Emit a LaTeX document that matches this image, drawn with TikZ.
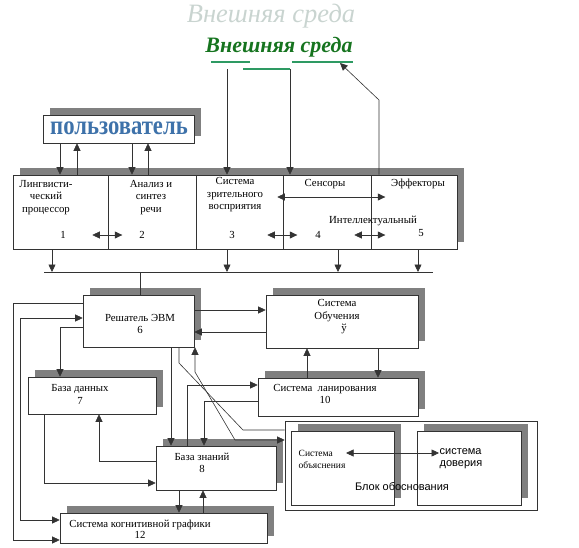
\documentclass[tikz,border=0pt]{standalone}
\usepackage{fontspec}
\setmainfont{Liberation Serif}
\setsansfont{Liberation Sans}
\usepackage{tikz}
\usetikzlibrary{arrows.meta, shadows, calc}
\definecolor{EnvFaint}{HTML}{C9D4D0}
\definecolor{EnvGreen}{HTML}{16741F}
\definecolor{EnvLine}{HTML}{2E9A63}
\definecolor{UserBlue}{HTML}{3E72AA}
\definecolor{ShadowGray}{HTML}{808080}
\definecolor{LineGray}{HTML}{333333}
\tikzset{
    % Boxes with a grey shadow at the upper right
    blockbox/.style={
        rectangle,
        draw=LineGray,
        fill=white,
        line width=0.6pt,
        inner sep=0pt,
        drop shadow={shadow xshift=7pt, shadow yshift=7pt, fill=ShadowGray, opacity=1}
    },
    cellbox/.style={
        rectangle,
        draw=LineGray,
        line width=0.6pt,
        minimum height=74pt,
        inner sep=0pt
    },
    plainbox/.style={
        rectangle,
        draw=LineGray,
        line width=0.6pt,
        inner sep=0pt
    },
    % Texts
    boxtext/.style={
        inner sep=0.5pt,
        align=center,
        font=\fontsize{10.8}{12.5}\selectfont
    },
    sanstext/.style={
        inner sep=0.5pt,
        align=left,
        font=\sffamily\fontsize{11}{12}\selectfont
    },
    % Arrow styles
    myarrow/.style={
        -{Triangle[length=7.5pt,width=7pt]},
        line width=0.6pt,
        LineGray
    },
    botharrow/.style={
        {Triangle[length=7.5pt,width=7pt]}-{Triangle[length=7.5pt,width=7pt]},
        line width=0.6pt,
        LineGray
    },
    plainline/.style={
        line width=0.6pt,
        LineGray
    },
    envline/.style={
        line width=1.6pt,
        EnvLine
    }
}
\begin{document}
\begin{tikzpicture}[x=1pt, y=-1pt]
    \useasboundingbox (0,0) rectangle (579,547);

    % Titles
    \node[text=EnvFaint, font=\itshape\fontsize{26.5}{28}\selectfont] (envFaint) at (271,16) {Внешняя среда};
    \node[text=EnvGreen, font=\bfseries\itshape\fontsize{22}{24}\selectfont] (envMain) at (279,47) {Внешняя среда};
    \draw[envline] (211,62) -- (250,62);
    \draw[envline] (292,62) -- (353,62);
    \draw[envline] (243,69) -- (290,69);
    \coordinate (envA) at (227,69);
    \coordinate (envB) at (290,69);
    \coordinate (envC) at (340,63);

    % User
    \node[blockbox, minimum width=151pt, minimum height=28pt] (user) at (118.5,129) {};
    \node[text=UserBlue, font=\bfseries\fontsize{27}{27}\selectfont] (userT) at (119,128) {\scalebox{0.84}[1]{пользователь}};

    % Strip of subsystems 1-5
    \node[blockbox, minimum width=444pt, minimum height=74pt] (strip) at (235,212) {};
    \node[cellbox, minimum width=95pt] (cell1) at (60.5,212) {};
    \node[cellbox, minimum width=88pt] (cell2) at (152,212) {};
    \node[cellbox, minimum width=87pt] (cell3) at (239.5,212) {};
    \node[cellbox, minimum width=88pt] (cell4) at (327,212) {};
    \node[cellbox, minimum width=86pt] (cell5) at (414,212) {};
    \node[boxtext] (t1) at (46,197.5) {Лингвисти-\\ческий\\процессор};
    \node[boxtext] (t2) at (151,197.5) {Анализ и\\синтез\\речи};
    \node[boxtext] (t3) at (235,195) {Система\\зрительного\\восприятия};
    \node[boxtext] (sensT) at (325,184) {Сенсоры};
    \node[boxtext] (effT) at (418,184) {Эффекторы};
    \node[boxtext] (intT) at (373,221) {Интеллектуальный};
    \node[boxtext] (n1) at (63,235) {1};
    \node[boxtext] (n2) at (142,235) {2};
    \node[boxtext] (n3) at (232,235) {3};
    \node[boxtext] (n4) at (318,235) {4};
    \node[boxtext] (n5) at (421,233) {5};

    % Lower boxes
    \node[blockbox, minimum width=111pt, minimum height=52pt] (solver) at (138.5,321) {};
    \node[boxtext] (solverT) at (140,324) {Решатель ЭВМ\\6};
    \node[blockbox, minimum width=152pt, minimum height=53pt] (learn) at (342,321.5) {};
    \node[boxtext] (learnT) at (337,317) {Система\\Обучения\\\hspace*{1.3em}ў};
    \node[blockbox, minimum width=160pt, minimum height=38pt] (plan) at (338,397) {};
    \node[boxtext] (planT) at (325,394) {Система~~ланирования\\10};
    \node[blockbox, minimum width=128pt, minimum height=37pt] (db) at (92,395.5) {};
    \node[boxtext] (dbT) at (80,394.5) {База данных\\7};
    \node[blockbox, minimum width=120pt, minimum height=44pt] (kb) at (216,468) {};
    \node[boxtext] (kbT) at (202,463) {База знаний\\8};
    \node[blockbox, minimum width=207pt, minimum height=30pt] (cog) at (163.5,528) {};
    \node[boxtext, font=\fontsize{10.8}{11}\selectfont] (cogT) at (140,529.5) {Система когнитивной графики\\12};

    % Justification block
    \node[plainbox, minimum width=252pt, minimum height=89pt] (block) at (411,465.5) {};
    \node[blockbox, minimum width=103pt, minimum height=74pt] (expl) at (342.5,468) {};
    \node[blockbox, minimum width=104pt, minimum height=74pt] (trust) at (469,468) {};
    \node[boxtext, align=left, anchor=west, font=\fontsize{9.5}{12}\selectfont] (explT) at (298,459) {Система\\объяснения};
    \node[sanstext, anchor=west] (trustT) at (439,459) {система\\доверия};
    \node[sanstext] (blockT) at (402,487) {Блок обоснования};

    % Arrows from the environment
    \draw[myarrow] (envA) -- (envA |- cell3.north);
    \draw[myarrow] (envB) -- (envB |- cell4.north);
    \draw[myarrow] (379,0 |- cell5.north) -- (379,100) -- (envC);

    % Arrows to and from the user
    \draw[myarrow] (60,0 |- user.south) -- (60,0 |- cell1.north);
    \draw[myarrow] (77,0 |- cell1.north) -- (77,0 |- user.south);
    \draw[myarrow] (132,0 |- user.south) -- (132,0 |- cell2.north);
    \draw[myarrow] (148,0 |- cell2.north) -- (148,0 |- user.south);

    % Arrows inside the strip
    \draw[botharrow] ($(cell1.east)+(-16,23)$) -- ($(cell1.east)+(14,23)$);
    \draw[botharrow] ($(cell3.east)+(-16,23)$) -- ($(cell3.east)+(14,23)$);
    \draw[botharrow] ($(cell4.east)+(-17,23)$) -- ($(cell4.east)+(14,23)$);
    \draw[botharrow] ($(cell3.east)+(-6,-15)$) -- ($(cell4.east)+(14,-15)$);

    % Bus
    \coordinate (busL) at (44,272);
    \coordinate (busR) at (433,272);
    \draw[plainline] (busL) -- (busR);
    \draw[myarrow] (52,0 |- cell1.south) -- (52,0 |- busL);
    \draw[myarrow] (227,0 |- cell3.south) -- (227,0 |- busL);
    \draw[myarrow] (338,0 |- cell4.south) -- (338,0 |- busL);
    \draw[myarrow] (418,0 |- cell5.south) -- (418,0 |- busL);
    \draw[plainline] (140,0 |- busL) -- (140,0 |- solver.north);

    % Solver and learning, planning
    \draw[myarrow] (solver.east |- 0,310) -- (learn.west |- 0,310);
    \draw[myarrow] (learn.west |- 0,332) -- (solver.east |- 0,332);
    \draw[myarrow] (307,0 |- plan.north) -- (307,0 |- learn.south);
    \draw[myarrow] (378,0 |- learn.south) -- (378,0 |- plan.north);

    % Solver, databases and graphics
    \draw[myarrow] (solver.west |- 0,327) -| (60,0 |- db.north);
    \draw[myarrow] (kb.west |- 0,461) -| (99,0 |- db.south);
    \draw[myarrow] (44,0 |- db.south) |- (kb.west |- 0,483);
    \draw[myarrow] (solver.west |- 0,303) -- (13,303) |- (cog.west |- 0,540);
    \draw[botharrow] (solver.west |- 0,318) -- (20,318) |- (cog.west |- 0,520);
    \draw[myarrow] (171,0 |- solver.south) -- (171,0 |- kb.north);
    \draw[plainline] (179,0 |- solver.south) -- (179,363) -- (243,430) -- (block.west |- 0,430);
    \draw[botharrow] (195,0 |- solver.south) -- (195,372) -- (235,440) -- (block.west |- 0,440);
    \draw[myarrow] (187,0 |- kb.north) -- (187,385) -- (plan.west |- 0,385);
    \draw[myarrow] (plan.west |- 0,401) -| (204,0 |- kb.north);
    \draw[myarrow] (179,0 |- kb.south) -- (179,0 |- cog.north);
    \draw[myarrow] (203,0 |- cog.north) -- (203,0 |- kb.south);

    % Explanation and trust
    \draw[botharrow] (explT.east |- 0,453) -- (trustT.west |- 0,453);
\end{tikzpicture}
\end{document}
